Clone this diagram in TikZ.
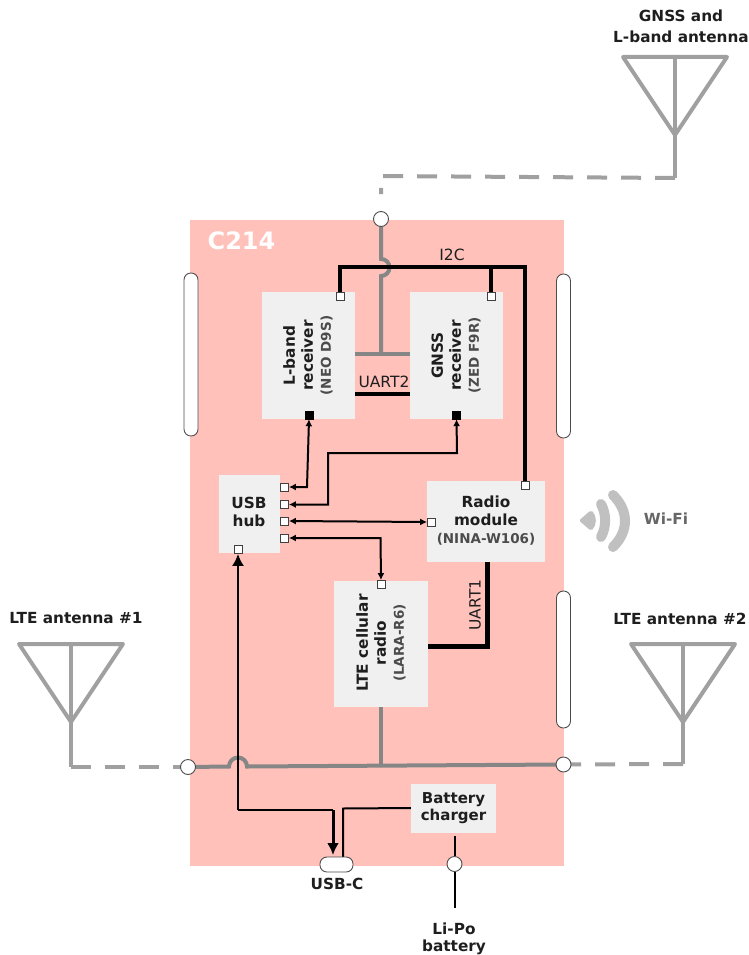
\documentclass[tikz,border=0pt]{standalone}
\usepackage{fontspec}
\setmainfont{DejaVu Sans}
\usetikzlibrary{arrows.meta}
\definecolor{boardpink}{HTML}{FFC1BA}
\definecolor{boxgray}{HTML}{F0F0F0}
\definecolor{antgray}{HTML}{A0A0A0}
\definecolor{busgray}{HTML}{868686}
\definecolor{labeldark}{HTML}{1E1E1E}
\definecolor{wifigray}{HTML}{C0C0C0}
\newcommand{\partno}[1]{{\fontsize{13.5}{13}\selectfont\color{labeldark!80} #1}}
\tikzset{
	block/.style={fill=boxgray, inner sep=0pt, font=\fontsize{15}{18}\selectfont\bfseries, text=labeldark, align=center},
	port/.style={draw=black!75, fill=white, minimum size=8pt, inner sep=0pt, line width=.8pt},
	portb/.style={draw=black, fill=black, minimum size=8pt, inner sep=0pt},
	pad/.style={circle, draw=black!70, fill=white, minimum size=15pt, inner sep=0pt, line width=.9pt},
	pill/.style={draw=black!70, fill=white, rounded corners=6.9pt, inner sep=0pt, line width=.9pt},
	tag/.style={font=\fontsize{15.3}{18}\selectfont\bfseries, text=labeldark, align=center},
	bus/.style={line width=4pt, color=antgray, line cap=round},
	feed/.style={line width=4pt, color=antgray, dash pattern=on 20pt off 14pt},
	grayline/.style={line width=4pt, color=busgray},
	data/.style={line width=2pt, {Latex[length=7pt,width=7pt]}-{Latex[length=7pt,width=7pt]}},
	thin/.style={font=\fontsize{15.5}{17}\selectfont, text=labeldark}
}
\begin{document}
\begin{tikzpicture}[x=1pt, y=-1pt]
	\useasboundingbox (0,0) rectangle (749,955);
	% Platine
	\node[fill=boardpink, minimum width=373.5pt, minimum height=646pt, inner sep=0pt] (board) at (376.75,543) {};
	\node[font=\fontsize{24}{26}\selectfont\bfseries, text=white] (name) at (241.5,241) {C214};
	% Seitliche Kontakte
	\node[pill, minimum width=14pt, minimum height=163pt] (pilla) at (191,354.5) {};
	\node[pill, minimum width=14pt, minimum height=164pt] (pillb) at (563.5,356) {};
	\node[pill, minimum width=14pt, minimum height=137pt] (pillc) at (563.5,659.5) {};
	% Bausteine
	\node[block, minimum width=93pt, minimum height=127pt] (lband) at (308.5,355.5) {};
	\node[block, minimum width=93pt, minimum height=127pt] (gnss) at (456.5,355.5) {};
	\node[block, minimum width=61pt, minimum height=78pt] (hub) at (249.5,514) {};
	\node[block, minimum width=118pt, minimum height=81pt] (radio) at (486,521.5) {};
	\node[block, minimum width=94pt, minimum height=126pt] (lte) at (381,644) {};
	\node[block, minimum width=85pt, minimum height=49pt] (charger) at (453.5,808) {Battery\\[-1pt]charger};
	% Beschriftung der Bausteine
	\node[tag, rotate=90, inner sep=0pt] (lbandtxt) at (308,355.5) {L-band\\receiver\\\partno{(NEO D9S)}};
	\node[tag, rotate=90, inner sep=0pt] (gnsstxt) at (456,355.5) {GNSS\\receiver\\\partno{(ZED F9R)}};
	\node[tag, inner sep=0pt] (hubtxt) at (249,512) {USB\\hub};
	\node[tag, inner sep=0pt] (radiotxt) at (486,521) {Radio\\module\\\partno{(NINA-W106)}};
	\node[tag, rotate=90, inner sep=0pt] (ltetxt) at (381,643) {LTE cellular\\radio\\\partno{(LARA-R6)}};
	% Anschluesse
	\node[port] (pa) at (340,296) {};
	\node[port] (pb) at (491,296) {};
	\node[port] (pc) at (525,485) {};
	\node[portb] (pd) at (309,415) {};
	\node[portb] (pe) at (456.5,415) {};
	\node[port] (ha) at (284.5,487) {};
	\node[port] (hb) at (284.5,504.5) {};
	\node[port] (hc) at (284.5,521) {};
	\node[port] (hd) at (284.5,538) {};
	\node[port] (he) at (238,549.5) {};
	\node[port] (pf) at (431.5,522) {};
	\node[port] (pg) at (381,584.5) {};
	% Antennen
	\coordinate (anta) at (675,135);
	\coordinate (antb) at (71,722);
	\coordinate (antc) at (683,722);
	\foreach \c in {anta,antb,antc} {
		\draw[bus, line join=round] (\c) -- ++(-52,-78) -- ++(104,0) -- cycle;
		\draw[bus] (\c) -- ++(0,-78);
	}
	\coordinate (anta1) at (675,178);
	\coordinate (anta2) at (381,176);
	\coordinate (anta3) at (381,194);
	\coordinate (antb1) at (71,767);
	\coordinate (antc1) at (683,764);
	\coordinate (padlc) at (188,767);
	\coordinate (padrc) at (563.5,764.5);
	\draw[bus, line cap=butt] (anta) -- (anta1);
	\draw[bus, line cap=butt] (antb) -- (antb1);
	\draw[bus, line cap=butt] (antc) -- (antc1);
	\draw[feed] (anta1) -- (anta2) -- (anta3);
	\draw[feed] (antb1) -- (padlc);
	\draw[feed] (antc1) -- (padrc);
	% Interne HF-Leitungen
	\draw[grayline] (381,219) -- (381,259) arc[start angle=-90, end angle=90, radius=8.5] -- (381,354);
	\draw[grayline] (lband.east |- 0,354) -- (gnss.west |- 0,354);
	\draw[grayline] (padlc) -- (229,766.5) arc[start angle=180, end angle=360, radius=9] -- (padrc);
	\draw[grayline] (lte.south) -- (381,765);
	\node[pad] (padtop) at (381,219) {};
	\node[pad] (padl) at (padlc) {};
	\node[pad] (padr) at (padrc) {};
	\node[pad] (padbat) at (454.5,864) {};
	% Busse
	\draw[line width=4.5pt] (pa.north) -- (340,267) -- (525,267) -- (pc.north);
	\draw[line width=4.5pt] (491,267) -- (pb.north);
	\draw[line width=4.5pt] (lband.east |- 0,394) -- (gnss.west |- 0,394);
	\draw[line width=5pt] (487,562) -- (487,646) -- (lte.east |- 0,646);
	\node[thin] (i2c) at (452,255) {I2C};
	\node[thin] (uart2) at (384,382) {UART2};
	\node[thin, rotate=90] (uart1) at (475,605) {UART1};
	% USB-Leitungen
	\draw[data] (pd.south) -- (307,487) -- (ha.east);
	\draw[data] (pe.south) -- (457,453) -- (328,453) -- (328,504.5) -- (hb.east);
	\draw[data] (hc.east) -- (pf.west);
	\draw[data] (hd.east) -- (380.5,538) -- (pg.north);
	\draw[line width=2pt, -{Latex[length=12pt, width=12pt]}] (238,810) -- (he.south);
	\draw[line width=2pt] (238,810) -- (333,810);
	\draw[line width=3pt, -{Latex[length=12pt, width=12pt]}] (333,810) -- (333,855);
	\draw[line width=2pt] (charger.west) -- (343,808.5) -- (343,857);
	\draw[line width=2pt] (454.5,836) -- (padbat.north);
	\draw[line width=2pt] (padbat.south) -- (454.5,908);
	\node[pill, minimum width=33pt, minimum height=15pt] (usbc) at (336.5,864.5) {};
	% Wi-Fi
	\fill[wifigray, rounded corners=2pt] (579,520.5) -- (591,510) .. controls (597,516) and (597,525) .. (591,531) -- cycle;
	\draw[wifigray, line width=10pt, line cap=round] (601,504) .. controls (606.5,514) and (606.5,527) .. (601,537);
	\draw[wifigray, line width=10pt, line cap=round] (613,495) .. controls (629,511) and (629,531) .. (613,547);
	\node[tag, text=black!60] (wifi) at (666,519) {Wi-Fi};
	% Aussenbeschriftung
	\node[tag, font=\fontsize{15.3}{20.5}\selectfont\bfseries] (antalab) at (681,26.5) {GNSS and\\L-band antenna};
	\node[tag] (antblab) at (76,618) {LTE antenna \#1};
	\node[tag] (antclab) at (680,619) {LTE antenna \#2};
	\node[tag] (usblab) at (337,884) {USB-C};
	\node[tag, font=\fontsize{15.3}{16.5}\selectfont\bfseries] (batlab) at (454,939) {Li-Po\\battery};
\end{tikzpicture}
\end{document}
